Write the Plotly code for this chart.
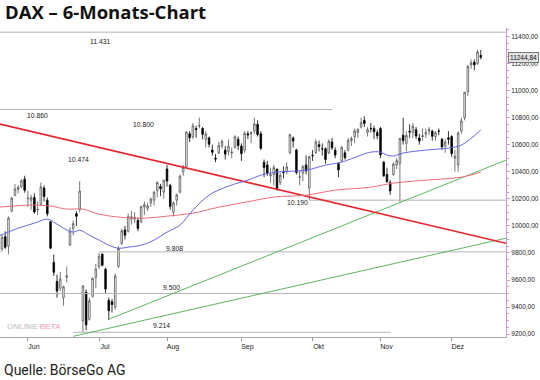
import plotly.graph_objects as go

# ---------------- data ----------------
dates = [
 "2016-05-19","2016-05-20","2016-05-23","2016-05-24","2016-05-25","2016-05-26","2016-05-27","2016-05-30","2016-05-31",
 "2016-06-01","2016-06-02","2016-06-03","2016-06-06","2016-06-07","2016-06-08","2016-06-09","2016-06-10",
 "2016-06-13","2016-06-14","2016-06-15","2016-06-16","2016-06-17","2016-06-20","2016-06-21","2016-06-22",
 "2016-06-23","2016-06-24","2016-06-27","2016-06-28","2016-06-29","2016-06-30",
 "2016-07-01","2016-07-04","2016-07-05","2016-07-06","2016-07-07","2016-07-08","2016-07-11","2016-07-12",
 "2016-07-13","2016-07-14","2016-07-15","2016-07-18","2016-07-19","2016-07-20","2016-07-21","2016-07-22",
 "2016-07-25","2016-07-26","2016-07-27","2016-07-28","2016-07-29",
 "2016-08-01","2016-08-02","2016-08-03","2016-08-04","2016-08-05","2016-08-08","2016-08-09","2016-08-10",
 "2016-08-11","2016-08-12","2016-08-15","2016-08-16","2016-08-17","2016-08-18","2016-08-19","2016-08-22",
 "2016-08-23","2016-08-24","2016-08-25","2016-08-26","2016-08-29","2016-08-30","2016-08-31",
 "2016-09-01","2016-09-02","2016-09-05","2016-09-06","2016-09-07","2016-09-08","2016-09-09","2016-09-12",
 "2016-09-13","2016-09-14","2016-09-15","2016-09-16","2016-09-19","2016-09-20","2016-09-21","2016-09-22",
 "2016-09-23","2016-09-26","2016-09-27","2016-09-28","2016-09-29","2016-09-30",
 "2016-10-03","2016-10-04","2016-10-05","2016-10-06","2016-10-07","2016-10-10","2016-10-11","2016-10-12",
 "2016-10-13","2016-10-14","2016-10-17","2016-10-18","2016-10-19","2016-10-20","2016-10-21","2016-10-24",
 "2016-10-25","2016-10-26","2016-10-27","2016-10-28","2016-10-31",
 "2016-11-01","2016-11-02","2016-11-03","2016-11-04","2016-11-07","2016-11-08","2016-11-09","2016-11-10",
 "2016-11-11","2016-11-14","2016-11-15","2016-11-16","2016-11-17","2016-11-18","2016-11-21","2016-11-22",
 "2016-11-23","2016-11-24","2016-11-25","2016-11-28","2016-11-29","2016-11-30",
 "2016-12-01","2016-12-02","2016-12-05","2016-12-06","2016-12-07","2016-12-08","2016-12-09","2016-12-12",
 "2016-12-13","2016-12-14",
]
opens = [
 9900,9830,9920,9850,10110,10225,10270,10290,10345,
 10200,10190,10210,10120,10160,10280,10190,10030,
 9730,9590,9540,9470,9620,9860,9980,10090,
 10120,9300,9510,9310,9480,9620,
 9700,9790,9680,9450,9440,9400,9700,9870,
 9970,9960,10050,10050,10040,10030,10140,10130,
 10170,10190,10260,10290,10250,
 10420,10300,10100,10190,10250,10400,10440,10680,
 10660,10720,10740,10720,10640,10650,10560,10500,
 10540,10590,10560,10550,10540,10580,10640,
 10590,10560,10680,10680,10700,10750,10680,10470,
 10450,10370,10380,10420,10320,10400,10400,10540,
 10650,10560,10360,10390,10450,10280,
 10520,10540,10600,10570,10570,10540,10620,10560,
 10460,10480,10540,10560,10630,10660,10690,10730,
 10780,10690,10720,10720,10690,
 10720,10470,10380,10320,10380,10450,10460,10670,
 10610,10700,10690,10710,10650,10660,10680,10700,
 10700,10660,10700,10640,10590,10650,
 10660,10500,10450,10700,10800,10990,11190,11210,
 11200,11260,
]
highs = [
 9920,9935,9960,10070,10215,10310,10300,10345,10370,
 10260,10230,10240,10180,10320,10300,10210,10040,
 9790,9640,9660,9560,9700,9990,10040,10110,
 10330,9560,9530,9470,9620,9720,
 9800,9800,9690,9470,9460,9650,9850,9980,
 10000,10090,10110,10100,10060,10150,10180,10170,
 10210,10260,10330,10310,10340,
 10450,10310,10180,10240,10380,10450,10700,10700,
 10760,10740,10800,10730,10700,10660,10600,10530,
 10620,10640,10590,10640,10580,10670,10660,
 10610,10700,10700,10700,10800,10780,10700,10490,
 10480,10430,10450,10420,10390,10440,10470,10680,
 10660,10570,10410,10450,10520,10520,
 10560,10640,10630,10610,10580,10640,10650,10580,
 10470,10590,10560,10650,10660,10720,10720,10800,
 10810,10730,10760,10740,10710,
 10730,10480,10430,10340,10470,10500,10650,10800,
 10700,10750,10760,10730,10680,10720,10720,10730,
 10710,10700,10720,10650,10640,10700,
 10670,10560,10700,10800,10990,11190,11230,11230,
 11300,11300,
]
lows = [
 9770,9810,9830,9790,10100,10220,10240,10280,10245,
 10140,10120,10090,10080,10150,10180,10070,9830,
 9630,9470,9520,9410,9580,9850,9930,10000,
 10100,9214,9230,9300,9470,9540,
 9680,9700,9500,9305,9360,9380,9690,9860,
 9900,9950,10010,10020,9960,10020,10080,10110,
 10140,10150,10210,10220,10200,
 10290,10120,10070,10150,10240,10370,10430,10620,
 10640,10650,10720,10640,10580,10580,10520,10470,
 10530,10570,10490,10520,10500,10570,10560,
 10480,10540,10640,10610,10680,10660,10560,10360,
 10370,10320,10300,10260,10300,10350,10380,10530,
 10580,10380,10300,10330,10380,10190,
 10480,10530,10550,10520,10460,10530,10560,10500,
 10360,10470,10490,10550,10590,10610,10650,10720,
 10730,10660,10690,10640,10640,
 10500,10360,10320,10230,10370,10420,10175,10600,
 10550,10650,10650,10640,10600,10630,10650,10670,
 10630,10630,10670,10560,10540,10600,
 10510,10400,10400,10680,10780,10960,11160,11150,
 11190,11230,
]
closes = [
 9796,9916,9842,10057,10205,10272,10286,10333,10263,
 10204,10208,10103,10121,10288,10217,10089,9835,
 9657,9519,9607,9550,9631,9962,10016,10071,
 10257,9557,9269,9447,9612,9680,
 9776,9709,9533,9373,9419,9630,9833,9964,
 9931,10068,10067,10063,9981,10142,10156,10147,
 10198,10248,10320,10275,10337,
 10331,10144,10170,10228,10367,10432,10693,10651,
 10739,10713,10740,10677,10679,10603,10544,10494,
 10593,10623,10530,10588,10544,10658,10593,
 10534,10684,10672,10687,10753,10675,10573,10432,
 10387,10378,10431,10276,10374,10394,10436,10674,
 10627,10394,10361,10438,10406,10511,
 10519,10620,10586,10569,10491,10624,10577,10523,
 10414,10580,10504,10632,10646,10701,10711,10761,
 10757,10710,10717,10696,10665,
 10526,10371,10326,10259,10457,10482,10646,10630,
 10668,10694,10735,10664,10627,10665,10688,10714,
 10662,10689,10699,10583,10620,10640,
 10534,10513,10685,10775,10987,11179,11204,11190,
 11285,11245,
]

# moving averages
ma_blue_dates = ["2016-05-19","2016-05-27","2016-06-03","2016-06-09","2016-06-13","2016-06-16","2016-06-21",
                 "2016-06-23","2016-06-28","2016-07-01","2016-07-06","2016-07-11","2016-07-14","2016-07-20",
                 "2016-07-26","2016-08-01","2016-08-05","2016-08-11","2016-08-18","2016-08-26","2016-09-05",
                 "2016-09-09","2016-09-16","2016-09-29","2016-10-07","2016-10-14","2016-10-24","2016-10-27",
                 "2016-11-01","2016-11-03","2016-11-07","2016-11-10","2016-11-21","2016-11-30","2016-12-06",
                 "2016-12-14"]
ma_blue_vals = [9925,9983,10020,10050,10028,9983,9954,9968,9931,9895,9857,9835,9843,9857,9895,9954,10005,
                10116,10227,10294,10338,10375,10397,10412,10449,10471,10523,10545,10545,10523,10516,10538,
                10560,10575,10597,10708]
ma_red_dates = ["2016-05-19","2016-06-02","2016-06-10","2016-06-17","2016-06-24","2016-07-01","2016-07-11",
                "2016-07-21","2016-08-01","2016-08-11","2016-08-23","2016-09-06","2016-09-15","2016-09-29",
                "2016-10-12","2016-10-27","2016-11-07","2016-11-21","2016-12-06","2016-12-14"]
ma_red_vals = [10138,10153,10146,10124,10124,10087,10065,10057,10072,10094,10138,10183,10213,10227,10264,
               10286,10316,10338,10360,10397]

# trend lines (start date, start value, end date, end value)
x_start, x_end = "2016-05-19 09:00", "2016-12-23 19:00"
trend_red = ([x_start, x_end], [10752, 9872])
trend_green_steep = (["2016-07-06", x_end], [9310, 10486])
trend_green_flat = (["2016-06-21", x_end], [9184, 9909])

# horizontal levels: (value, from, to)
levels = [
    (11431, x_start, x_end),
    (10860, x_start, "2016-10-11"),
    (10190, "2016-09-30", x_end),
    (9808, "2016-07-01", x_end),
    (9500, x_start, x_end),
    (9214, "2016-06-21", "2016-11-04"),
]
level_labels = [  # text, pixel x, pixel y (label placement)
    ("11.431", 100, 41), ("10.860", 37, 115), ("10.800", 143, 124.5), ("10.474", 78, 159),
    ("10.190", 297, 202), ("9.808", 174, 248), ("9.500", 171, 287), ("9.214", 161, 325),
]
month_ticks = ["2016-06-01","2016-07-01","2016-08-01","2016-09-01","2016-10-03","2016-11-01","2016-12-01"]
month_labels = ["Jun","Jul","Aug","Sep","Okt","Nov","Dez"]
y_ticks = [9200,9400,9600,9800,10000,10200,10400,10600,10800,11000,11200,11400]
last_value = 11244.84

# ---------------- figure ----------------
W, H = 540, 380
L, R, T, B = 0, 34, 28, 43.3
PW, PH = W - L - R, H - T - B

def px2paper(px, py):
    return (px - L) / PW, (H - B - py) / PH

fig = go.Figure()

for v, a, b in levels:
    fig.add_trace(go.Scatter(x=[a, b], y=[v, v], mode="lines",
                             line=dict(color="#b4b4b4", width=1), hoverinfo="skip"))

fig.add_trace(go.Scatter(x=trend_green_flat[0], y=trend_green_flat[1], mode="lines",
                         line=dict(color="#4caf50", width=0.9), hoverinfo="skip"))
fig.add_trace(go.Scatter(x=trend_green_steep[0], y=trend_green_steep[1], mode="lines",
                         line=dict(color="#4caf50", width=0.9), hoverinfo="skip"))
fig.add_trace(go.Scatter(x=trend_red[0], y=trend_red[1], mode="lines",
                         line=dict(color="#e8262e", width=1.6), hoverinfo="skip"))
fig.add_trace(go.Scatter(x=ma_red_dates, y=ma_red_vals, mode="lines", line_shape="spline",
                         line=dict(color="#ee6c78", width=1), hoverinfo="skip"))
fig.add_trace(go.Scatter(x=ma_blue_dates, y=ma_blue_vals, mode="lines", line_shape="spline",
                         line=dict(color="#6666e6", width=1), hoverinfo="skip"))

fig.add_trace(go.Candlestick(
    x=dates, open=opens, high=highs, low=lows, close=closes,
    increasing=dict(line=dict(color="#555555", width=0.8), fillcolor="#ffffff"),
    decreasing=dict(line=dict(color="#000000", width=0.8), fillcolor="#000000"),
    whiskerwidth=0, hoverinfo="skip"))

annotations = []
for text, px, py in level_labels:
    ax, ay = px2paper(px, py)
    annotations.append(dict(x=ax, y=ay, xref="paper", yref="paper", text=text, showarrow=False,
                            xanchor="center", yanchor="middle",
                            font=dict(family="Liberation Sans, Arial", size=6.8, color="#222")))

tx, ty = px2paper(3, 11.5)
annotations.append(dict(x=tx, y=ty, xref="paper", yref="paper", text="<b>DAX – 6-Monats-Chart</b>",
                        showarrow=False, xanchor="left", yanchor="middle",
                        font=dict(family="Open Sans", size=18.5, color="#111")))
fx, fy = px2paper(2, 370)
annotations.append(dict(x=fx, y=fy, xref="paper", yref="paper", text="Quelle: BörseGo AG",
                        showarrow=False, xanchor="left", yanchor="middle",
                        font=dict(family="Roboto", size=14, color="#222")))
wx, wy = px2paper(5, 326)
annotations.append(dict(x=wx, y=wy, xref="paper", yref="paper",
                        text="<b>ONLINE</b> <span style='color:#f2b8c6'><b>BETA</b></span>",
                        showarrow=False, xanchor="left", yanchor="middle",
                        font=dict(family="Liberation Sans", size=8, color="#cfcfcf")))
annotations.append(dict(x=1, y=last_value, xref="paper", yref="y", text="11244,84",
                        showarrow=False, xanchor="left", yanchor="middle", xshift=2,
                        bgcolor="#e2e2e2", bordercolor="#7a7a7a", borderwidth=1, borderpad=1,
                        font=dict(family="Liberation Sans, Arial", size=6.5, color="#111")))

fig.update_layout(
    width=W, height=H, margin=dict(l=L, r=R, t=T, b=B, pad=0),
    paper_bgcolor="white", plot_bgcolor="white", showlegend=False,
    separators=",.",
    annotations=annotations,
    xaxis=dict(
        range=[x_start, x_end], rangeslider=dict(visible=False),
        rangebreaks=[dict(bounds=["sat", "mon"])],
        tickvals=month_ticks, ticktext=month_labels, ticklabelshift=6,
        ticks="outside", ticklen=3, tickcolor="#999", showgrid=False, zeroline=False,
        showline=True, linecolor="#a8a8a8", linewidth=1,
        tickfont=dict(family="Liberation Sans, Arial", size=7, color="#222"),
    ),
    yaxis=dict(
        side="right", range=[9179, 11462], tickvals=y_ticks, tickformat=".2f",
        ticks="outside", ticklen=3, tickcolor="#cc99cc", showgrid=False, zeroline=False,
        showline=True, linecolor="#cc99cc", linewidth=1,
        minor=dict(dtick=50, tick0=9200, ticks="outside", ticklen=1.5, tickcolor="#cc99cc"),
        tickfont=dict(family="Liberation Sans, Arial", size=6.5, color="#222"),
    ),
)

fig.write_html("out.html", config={"displayModeBar": False, "staticPlot": True},
               post_script="document.body.style.margin='0';document.body.style.overflow='hidden';")
